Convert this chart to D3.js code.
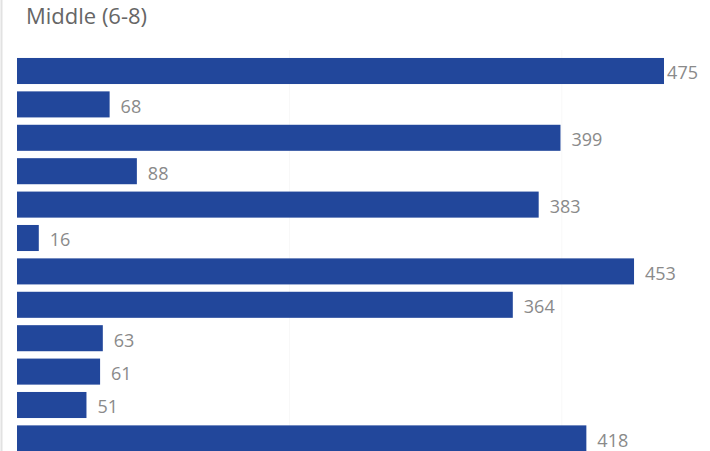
<!DOCTYPE html>
<html>
<head>
<meta charset="utf-8">
<script src="https://cdn.jsdelivr.net/npm/d3@7"></script>
<style>
  html, body { margin: 0; padding: 0; background: #fff; }
  svg { display: block; }
</style>
</head>
<body>
<svg id="chart" width="710" height="451"></svg>
<script>
// Enrolment counts per row, top to bottom
const categories = ["A", "B", "C", "D", "E", "F", "G", "H", "I", "J", "K", "L"];
const values = [475, 68, 399, 88, 383, 16, 453, 364, 63, 61, 51, 418];
const gridTicks = [200, 400];
const title = "Middle (6-8)";

const width = 710, height = 451;
const svg = d3.select("#chart");

// Thin frame line on the left edge
svg.append("line")
  .attr("x1", 1.5).attr("x2", 1.5)
  .attr("y1", 0).attr("y2", height)
  .attr("stroke", "#e2e2e2").attr("stroke-width", 2);

svg.append("text")
  .attr("x", 26).attr("y", 24)
  .attr("font-family", "'Open Sans', 'Noto Sans', sans-serif")
  .attr("font-size", 22)
  .attr("fill", "#666")
  .text(title);

const x = d3.scaleLinear().domain([0, 475]).range([17, 664]);
const step = 33.4;
const y = d3.scaleBand()
  .domain(categories)
  .range([54.3, 54.3 + step * categories.length])
  .paddingInner(0.22)
  .paddingOuter(0.11);

// Faint vertical gridlines
svg.append("g")
  .selectAll("line")
  .data(gridTicks)
  .join("line")
  .attr("x1", d => x(d)).attr("x2", d => x(d))
  .attr("y1", 50).attr("y2", height)
  .attr("stroke", "#f8f8f8").attr("stroke-width", 1);

const rows = categories.map((c, i) => ({ c, v: values[i] }));

svg.append("g")
  .selectAll("rect")
  .data(rows)
  .join("rect")
  .attr("x", x(0))
  .attr("y", d => y(d.c))
  .attr("width", d => x(d.v) - x(0))
  .attr("height", y.bandwidth())
  .attr("fill", "#22479b");

const labels = svg.append("g")
  .selectAll("text")
  .data(rows)
  .join("text")
  .attr("y", d => y(d.c) + y.bandwidth() / 2 + 2)
  .attr("dy", "0.35em")
  .attr("font-family", "'Open Sans', 'Noto Sans', sans-serif")
  .attr("font-size", 18)
  .attr("fill", "#8a8a8a")
  .text(d => d.v);

// Keep labels inside the frame: pull back the ones that would overflow
labels.each(function(d) {
  const w = this.getComputedTextLength();
  const px = Math.min(x(d.v) + 11, width - 12 - w);
  d3.select(this).attr("x", Math.max(px, x(d.v) + 2));
});
</script>
</body>
</html>
